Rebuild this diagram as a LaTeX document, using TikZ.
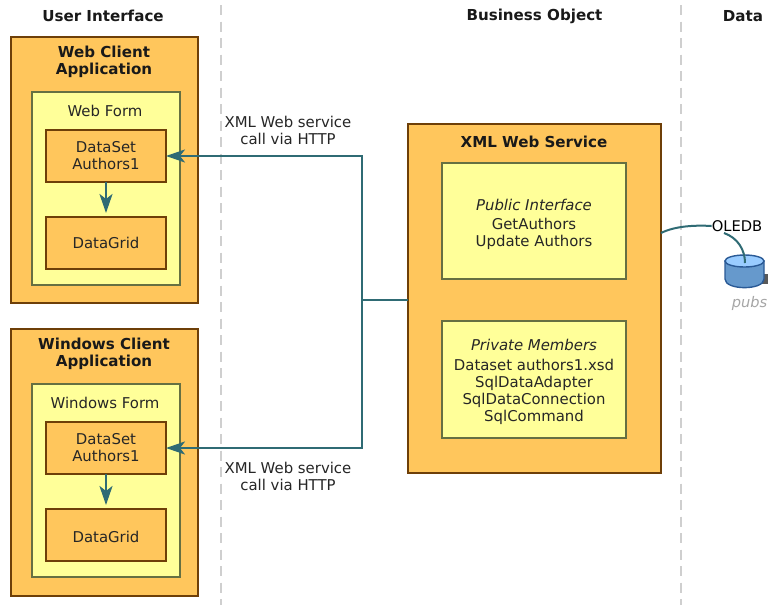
\documentclass[tikz,border=0pt]{standalone}
\usepackage{fontspec}
\setmainfont{DejaVu Sans}
\usetikzlibrary{arrows.meta}
\definecolor{orangefill}{HTML}{FFC65C}
\definecolor{orangeline}{HTML}{6E3F08}
\definecolor{yellowfill}{HTML}{FFFF99}
\definecolor{yellowline}{HTML}{667042}
\definecolor{teal2}{HTML}{2F6B74}
\definecolor{dashgray}{HTML}{CFCFCF}
\definecolor{dbside}{HTML}{6699CC}
\definecolor{dbtop}{HTML}{99CCFF}
\definecolor{dbline}{HTML}{2A5A96}
\tikzset{
  x=1pt,y=-1pt,
  txt/.style={font=\fontsize{14.9}{17}\selectfont,align=center,inner sep=0pt,text=black!85},
  head/.style={font=\fontsize{15.1}{17}\selectfont\bfseries,align=center,inner sep=0pt,text=black!90},
  orangebox/.style={draw=orangeline,fill=orangefill,line width=2.5pt,inner sep=0pt,outer sep=0pt},
  yellowbox/.style={draw=yellowline,fill=yellowfill,line width=2.3pt,inner sep=0pt,outer sep=0pt},
  conn/.style={draw=teal2,line width=2.4pt},
  arr/.style={conn,-{Stealth[length=19pt,width=13pt,inset=5pt]}},
  divider/.style={draw=dashgray,line width=2.4pt,dash pattern=on 10pt off 6.5pt},
}
\newcommand{\boxat}[6]{\node[#1,minimum width=#5pt-#3pt,minimum height=#6pt-#4pt,anchor=north west] (#2) at (#3,#4) {};}
\begin{document}
\begin{tikzpicture}
\useasboundingbox (0,0) rectangle (768,605);
\fill[white] (0,0) rectangle (768,605);
\coordinate (d1t) at (221,5); \coordinate (d1b) at (221,605);
\coordinate (d2t) at (681,5); \coordinate (d2b) at (681,605);
\draw[divider] (d1t) -- (d1b);
\draw[divider] (d2t) -- (d2b);
\node[head] (h1) at (103,16) {User Interface};
\node[head] (h2) at (534.5,16) {Business Object};
\node[head] (h3) at (743,16) {Data};
% Web client
\boxat{orangebox}{wc}{11}{37}{198}{303}
\node[head] (wct) at (104,62) {Web Client\\Application};
\boxat{yellowbox}{wf}{32}{92}{180}{285}
\node[txt] (wft) at (105,110.5) {Web Form};
\boxat{orangebox}{wd}{46}{130}{166}{182}
\node[txt] at (wd) {DataSet\\Authors1};
\boxat{orangebox}{wg}{46}{217}{166}{269}
\node[txt] at (wg) {DataGrid};
% Windows client
\boxat{orangebox}{wn}{11}{329}{198}{596}
\node[head] (wnt) at (104,354) {Windows Client\\Application};
\boxat{yellowbox}{nf}{32}{384}{180}{577}
\node[txt] (nft) at (105,402.5) {Windows Form};
\boxat{orangebox}{nd}{46}{422}{166}{474}
\node[txt] at (nd) {DataSet\\Authors1};
\boxat{orangebox}{ng}{46}{509}{166}{561}
\node[txt,yshift=-1.5pt] at (ng) {DataGrid};
% Service
\boxat{orangebox}{ws}{408}{124}{661}{473}
\node[head] (wst) at (534,141.5) {XML Web Service};
\boxat{yellowbox}{pi}{442}{163}{626}{279}
\node[txt,yshift=-3.5pt] at (pi) {\textit{Public Interface}\\[2pt]GetAuthors\\Update Authors};
\boxat{yellowbox}{pm}{442}{321}{626}{438}
\node[txt,yshift=-2.5pt] at (pm) {\textit{Private Members}\\[3pt]Dataset authors1.xsd\\SqlDataAdapter\\SqlDataConnection\\SqlCommand};
% labels
\node[txt] (l1) at (288,130) {XML Web service\\call via HTTP};
\node[txt] (l2) at (288,476) {XML Web service\\call via HTTP};
\node[txt,text=black,font=\fontsize{14.7}{17}\selectfont] (ole) at (737,226) {OLEDB};
% connectors
\coordinate (j) at (362,300);
\draw[conn] (ws.west |- j) -- (j);
\draw[arr] (j) |- (wd.east);
\draw[arr] (j) |- (nd.east);
\draw[arr,shorten >=4pt] (wd.south) -- (wg.north);
\draw[arr,shorten >=4pt] (nd.south) -- (ng.north);
% database
\fill[black!65] (762,274) rectangle (768,284);
\draw[draw=dbline,fill=dbside,line width=1.4pt]
  (725,261) -- (725,279) .. controls (725,290.5) and (764,290.5) .. (764,279) -- (764,261) -- cycle;
\draw[draw=dbline,fill=dbtop,line width=1.4pt] (744.5,261) ellipse[x radius=19.5,y radius=6];
\coordinate (db) at (745,263);
\node[txt,font=\fontsize{14.6}{16}\selectfont\itshape,text=black!35] (pb) at (749.5,303) {pubs};
\coordinate (ws1) at (661,233);
\coordinate (ole2) at (724,233);
\draw[conn,line width=2pt] (ws1) .. controls (675,226) and (695,225) .. (ole.west);
\draw[conn,line width=2pt] (ole2) .. controls (738,238) and (745,250) .. (db);
\end{tikzpicture}
\end{document}
